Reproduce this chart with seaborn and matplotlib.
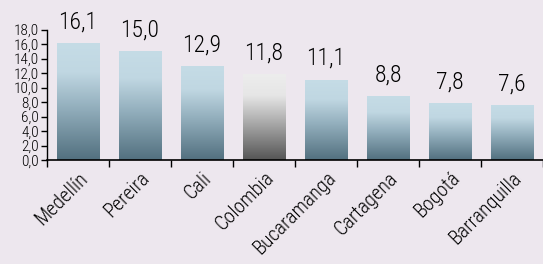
import numpy as np
import matplotlib
matplotlib.use('Agg')
import matplotlib.pyplot as plt
import seaborn as sns
from matplotlib.colors import LinearSegmentedColormap

# Datos
ciudades = ['Medellín', 'Pereira', 'Cali', 'Colombia', 'Bucaramanga', 'Cartagena', 'Bogotá', 'Barranquilla']
valores = [16.1, 15.0, 12.9, 11.8, 11.1, 8.8, 7.8, 7.6]
destacado = 'Colombia'

fondo = '#EDE7EE'
sns.set_theme(style='white')
plt.rcParams['font.family'] = ['Roboto Condensed', 'DejaVu Sans']
plt.rcParams['font.weight'] = 'light'
plt.rcParams['text.color'] = 'black'
plt.rcParams['xtick.color'] = 'black'
plt.rcParams['ytick.color'] = 'black'

azul = LinearSegmentedColormap.from_list('azul', [(0, '#52707F'), (0.45, '#93AFBD'), (0.75, '#C0D7E2'), (1, '#C5DCE6')])
gris = LinearSegmentedColormap.from_list('gris', [(0, '#555555'), (0.45, '#ADADAD'), (0.75, '#E6E6E6'), (1, '#EDEDED')])

fig = plt.figure(figsize=(5.43, 2.64), dpi=100, facecolor=fondo)
ax = fig.add_axes([47 / 543, 1 - 160 / 264, 496 / 543, 130.5 / 264])
ax.set_facecolor(fondo)

sns.barplot(x=ciudades, y=valores, color='#C5DCE6', width=0.68, ax=ax)

# Degradado en cada barra
grad = np.linspace(0, 1, 256).reshape(-1, 1)
for barra, nombre in zip(ax.patches, ciudades):
    x0, y0 = barra.get_x(), barra.get_y()
    w, h = barra.get_width(), barra.get_height()
    cmap = gris if nombre == destacado else azul
    im = ax.imshow(grad, cmap=cmap, origin='lower', aspect='auto',
                   extent=[x0, x0 + w, y0, y0 + h], zorder=barra.get_zorder())
    im.set_clip_path(barra)
    barra.set_alpha(0)
    ax.annotate(f'{h:.1f}'.replace('.', ','), (x0 + w / 2, h), xytext=(0, 7),
                textcoords='offset points', ha='center', va='bottom', fontsize=17)

ax.set_xlim(-0.5, len(ciudades) - 0.5)
ax.set_ylim(0, 18)
ax.set_yticks(np.arange(0, 18.1, 2))
ax.set_yticklabels([f'{v:.1f}'.replace('.', ',') for v in np.arange(0, 18.1, 2)], fontsize=11)
ax.set_xticks(range(len(ciudades)))
ax.set_xticklabels(ciudades, rotation=45, ha='right', rotation_mode='anchor', fontsize=14.5)
ax.set_xticks(np.arange(-0.5, len(ciudades), 1), minor=True)
ax.tick_params(axis='x', which='major', length=0, pad=6)
ax.tick_params(axis='x', which='minor', length=5, width=1, direction='out', color='black', bottom=True)
ax.tick_params(axis='y', length=4, width=1, direction='out', color='black', left=True, pad=2)

sns.despine(ax=ax, top=True, right=True)
ax.spines['left'].set_color('black')
ax.spines['bottom'].set_color('black')
ax.spines['left'].set_linewidth(1)
ax.spines['bottom'].set_linewidth(1.2)

fig.savefig('out.png', dpi=100, facecolor=fondo)
